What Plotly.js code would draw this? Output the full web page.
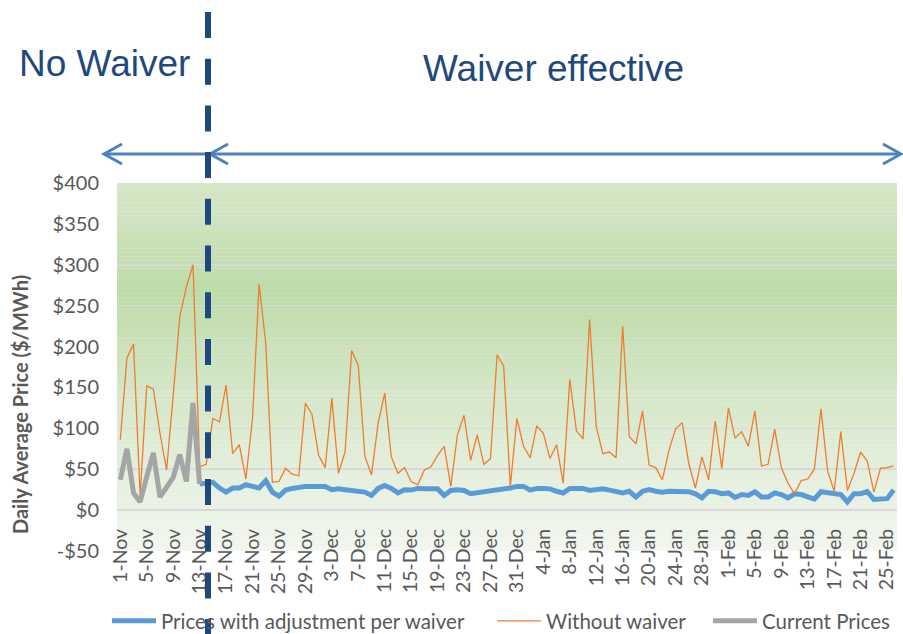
<!DOCTYPE html>
<html><head><meta charset="utf-8">
<script src="https://cdn.plot.ly/plotly-3.0.1.min.js"></script>
<style>html,body{margin:0;padding:0;background:#fff}#chart{width:903px;height:634px}</style>
</head><body><div id="chart"></div><script>
// ---- data ----
const months = ["Nov", "Dec", "Jan", "Feb"];
const monthDays = [30, 31, 31, 26];
const dates = [];
months.forEach((m, k) => { for (let d = 1; d <= monthDays[k]; d++) dates.push(d + "-" + m); });

const tickLabels = ["1-Nov","5-Nov","9-Nov","13-Nov","17-Nov","21-Nov","25-Nov","29-Nov",
  "3-Dec","7-Dec","11-Dec","15-Dec","19-Dec","23-Dec","27-Dec","31-Dec",
  "4-Jan","8-Jan","12-Jan","16-Jan","20-Jan","24-Jan","28-Jan",
  "1-Feb","5-Feb","9-Feb","13-Feb","17-Feb","21-Feb","25-Feb"];

const yTickValues = [-50, 0, 50, 100, 150, 200, 250, 300, 350, 400];
const yTickLabels = ["-$50", "$0", "$50", "$100", "$150", "$200", "$250", "$300", "$350", "$400"];

// Without waiver: 1-Nov .. 26-Feb
const withoutWaiver = [
  86, 186, 203, 18, 152, 148, 94, 49, 140, 237,
  273, 300, 53, 56, 112, 108, 153, 69, 80, 38,
  112, 276, 204, 34, 35, 51, 44, 42, 131, 117,
  67, 52, 137, 45, 71, 195, 177, 66, 43, 106,
  143, 65, 45, 52, 35, 31, 49, 53, 67, 78,
  29, 92, 116, 61, 92, 56, 63, 190, 176, 29,
  112, 78, 64, 103, 94, 63, 80, 33, 160, 97,
  87, 233, 102, 69, 71, 64, 225, 90, 81, 121,
  55, 52, 37, 73, 99, 107, 57, 27, 65, 37,
  109, 51, 125, 88, 96, 78, 121, 54, 56, 99,
  52, 33, 20, 36, 38, 50, 124, 48, 23, 96,
  24, 45, 71, 60, 22, 51, 52, 54
];

// Current prices: 1-Nov .. 13-Nov
const currentPrices = [37, 75, 21, 10, 41, 70, 16, 29, 40, 68, 35, 131, 32];

// Prices with adjustment per waiver: 13-Nov .. 26-Feb
const waiverPrices = [
  32, 33, 34, 27, 22, 27, 27, 31, 29, 27,
  36, 22, 17, 24.5, 26.5, 28, 29, 29, 29, 29,
  25, 26, 25, 24, 24, 22, 18, 26.5, 30, 26.5,
  21, 25, 24.5, 26.5, 26, 26, 26, 18, 24, 25,
  24, 20, 21, 22, 24, 25, 26, 27, 29, 29,
  24.5, 26.5, 26.5, 26, 23, 21, 26.5, 26, 26.5, 24,
  25, 26, 24.5, 23, 21, 23, 16, 23, 25, 23,
  22, 23, 22.5, 23, 22.5, 20, 15, 23, 22.5, 20,
  21, 15.5, 19, 18, 22.5, 16, 16, 21, 19, 15,
  20, 19, 15.5, 13.5, 22.5, 21, 21, 19, 10, 20,
  20, 22.5, 13, 14, 14, 24.5
];

// ---- layout helpers (pixel -> paper / container) ----
const W = 903, H = 634;
const M = {l: 117, r: 6, t: 183, b: 83};
const PW = W - M.l - M.r, PH = H - M.t - M.b;
const px = x => (x - M.l) / PW;
const py = y => (H - M.b - y) / PH;
const cx = x => x / W;
const cy = y => (H - y) / H;

const FONT = "Lato, 'Open Sans', sans-serif";
const TXT = "#595959";

const traces = [
  {x: dates.slice(12), y: waiverPrices, type: "scatter", mode: "lines",
   name: "Prices with adjustment per waiver", legend: "legend",
   line: {color: "#5B9BD5", width: 5}},
  {x: dates, y: withoutWaiver, type: "scatter", mode: "lines",
   name: "Without waiver", legend: "legend2",
   line: {color: "#ED7D31", width: 1.3}},
  {x: dates.slice(0, 13), y: currentPrices, type: "scatter", mode: "lines",
   name: "Current Prices", legend: "legend3",
   line: {color: "#A5A5A5", width: 5}}
];

// gradient background bands
function hex2rgb(h) { return [1, 3, 5].map(i => parseInt(h.substr(i, 2), 16)); }
const gStops = [[0, "#d5e7c7"], [0.3, "#bedba9"], [0.55, "#d3e6c6"], [0.85, "#e8f1e2"], [1, "#f2f6ef"]];
function gradColor(f) {
  for (let k = 0; k < gStops.length - 1; k++) {
    const [f0, c0] = gStops[k], [f1, c1] = gStops[k + 1];
    if (f >= f0 && f <= f1) {
      const t = (f - f0) / (f1 - f0), a = hex2rgb(c0), b = hex2rgb(c1);
      return "rgb(" + a.map((v, i) => Math.round(v + (b[i] - v) * t)).join(",") + ")";
    }
  }
  return gStops[gStops.length - 1][1];
}
const shapes = [];
const nBands = 90;
for (let k = 0; k < nBands; k++) {
  const y1 = 400 - k * 450 / nBands, y0 = y1 - 450 / nBands;
  shapes.push({type: "rect", xref: "paper", yref: "y", x0: 0, x1: 1, y0: y0, y1: y1 + 0.3,
    fillcolor: gradColor((k + 0.5) / nBands), line: {width: 0}, layer: "below"});
}
// arrows
const AC = "#4F81BD";
const arrowLine = (x0, x1, y) => ({type: "line", xref: "paper", yref: "paper",
  x0: px(x0), x1: px(x1), y0: py(y), y1: py(y), line: {color: AC, width: 3}, layer: "above"});
const head = (tx, y, dir) => ({type: "path", xref: "paper", yref: "paper", layer: "above",
  path: "M " + px(tx + dir * 18) + " " + py(y - 10) + " L " + px(tx) + " " + py(y) + " L " + px(tx + dir * 18) + " " + py(y + 10),
  line: {color: AC, width: 3}});
shapes.push(arrowLine(104, 900, 154));
shapes.push(head(104, 154, 1));
shapes.push(head(210, 154, 1));
shapes.push(head(901, 154, -1));
// dashed divider
shapes.push({type: "line", xref: "paper", yref: "paper", layer: "above",
  x0: px(208), x1: px(208), y0: py(12), y1: py(634),
  line: {color: "#1F497D", width: 6, dash: "26px,20.7px"}});

const legendBase = {orientation: "h", yanchor: "middle", xanchor: "left",
  xref: "container", yref: "container", y: cy(621), itemwidth: 44,
  bgcolor: "rgba(0,0,0,0)", font: {family: FONT, size: 20.5, color: TXT}};

const layout = {
  width: W, height: H, margin: M,
  paper_bgcolor: "#ffffff", plot_bgcolor: "rgba(0,0,0,0)",
  showlegend: true,
  legend: Object.assign({}, legendBase, {x: cx(107)}),
  legend2: Object.assign({}, legendBase, {x: cx(492)}),
  legend3: Object.assign({}, legendBase, {x: cx(708)}),
  xaxis: {type: "category", categoryorder: "array", categoryarray: dates,
    range: [-0.5, dates.length - 0.5], tickvals: tickLabels, ticktext: tickLabels,
    tickangle: -90, anchor: "free", position: py(510), showgrid: false, showline: false,
    zeroline: false, ticks: "", ticklabelstandoff: 14, tickfont: {family: FONT, size: 19.5, color: TXT}},
  yaxis: {range: [-50, 400], tickvals: yTickValues, ticktext: yTickLabels,
    showgrid: true, gridcolor: "#d9d9d9", gridwidth: 1.5, zeroline: false, showline: false,
    ticks: "", ticklabelstandoff: 17, tickfont: {family: FONT, size: 20, color: TXT}},
  shapes: shapes,
  annotations: [
    {text: "No Waiver", xref: "paper", yref: "paper", x: px(104), y: py(64),
     xanchor: "center", yanchor: "middle",
     showarrow: false, font: {family: "'Liberation Sans', Arial, sans-serif", size: 37, color: "#1F497D"}},
    {text: "Waiver effective", xref: "paper", yref: "paper", x: px(553), y: py(68),
     xanchor: "center", yanchor: "middle",
     showarrow: false, font: {family: "'Liberation Sans', Arial, sans-serif", size: 37, color: "#1F497D"}},
    {text: "<b>Daily Average Price ($/MWh)</b>", xref: "paper", yref: "paper", x: px(20), y: py(405),
     xanchor: "center", yanchor: "middle",
     textangle: -90, showarrow: false, font: {family: FONT, size: 20, color: TXT}}
  ]
};

Plotly.newPlot("chart", traces, layout, {displayModeBar: false, staticPlot: true});
</script></body></html>
